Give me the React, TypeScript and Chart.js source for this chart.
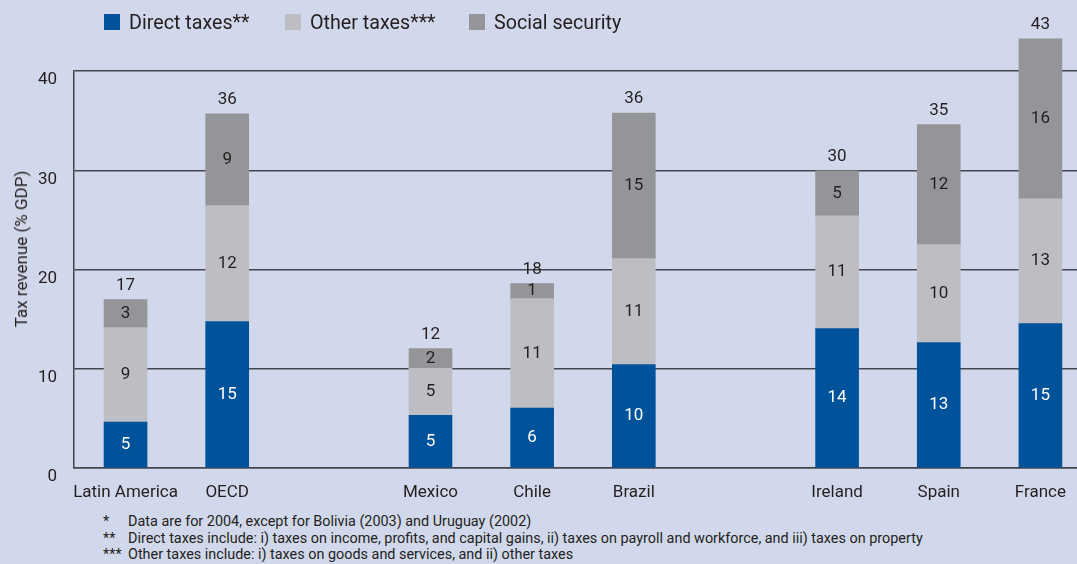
import React, { useEffect, useRef } from "react";
import { Chart, registerables } from "chart.js";

Chart.register(...registerables);

const categories = ["Latin America", "OECD", "", "Mexico", "Chile", "Brazil", "", "Ireland", "Spain", "France"];
const directTaxes = [4.63, 14.76, null, 5.3, 6.04, 10.43, null, 14.05, 12.64, 14.56];
const otherTaxes = [9.52, 11.67, null, 4.73, 11.03, 10.67, null, 11.35, 9.86, 12.57];
const socialSecurity = [2.82, 9.26, null, 2.01, 1.51, 14.65, null, 4.53, 12.1, 16.1];
const directLabels = [5, 15, null, 5, 6, 10, null, 14, 13, 15];
const otherLabels = [9, 12, null, 5, 11, 11, null, 11, 10, 13];
const socialLabels = [3, 9, null, 2, 1, 15, null, 5, 12, 16];
const totalLabels = [17, 36, null, 12, 18, 36, null, 30, 35, 43];
const yTicks = [0, 10, 20, 30, 40];

const FONT = "Roboto, 'Noto Sans', sans-serif";
const TEXT = "#231f20";
const BG = "#d2d8eb";
const BLUE = "#00529b";
const LIGHT = "#bdbec3";
const DARK = "#949599";
const GRID = "#45454f";

const segmentLabels = [directLabels, otherLabels, socialLabels];

const labelPlugin = {
  id: "valueLabels",
  afterDatasetsDraw(chart: any) {
    const ctx = chart.ctx;
    ctx.save();
    ctx.font = `17px ${FONT}`;
    ctx.textAlign = "center";
    ctx.textBaseline = "middle";
    segmentLabels.forEach((labels, di) => {
      const meta = chart.getDatasetMeta(di);
      meta.data.forEach((bar: any, i: number) => {
        const v = labels[i];
        if (v == null) return;
        ctx.fillStyle = di === 0 ? "#ffffff" : TEXT;
        ctx.fillText(String(v), bar.x, (bar.y + bar.base) / 2);
      });
    });
    const topMeta = chart.getDatasetMeta(2);
    topMeta.data.forEach((bar: any, i: number) => {
      const t = totalLabels[i];
      if (t == null) return;
      ctx.fillStyle = TEXT;
      ctx.fillText(String(t), bar.x, bar.y - 14);
    });
    ctx.restore();
  },
};

const toPoints = (arr: (number | null)[]) => arr.map((v, i) => ({ x: i, y: v }));

export default function App() {
  const ref = useRef<HTMLCanvasElement>(null);
  useEffect(() => {
    const chart = new Chart(ref.current!, {
      type: "bar",
      data: {
        datasets: [
          { label: "Direct taxes**", data: toPoints(directTaxes) as any, backgroundColor: BLUE, barThickness: 43, clip: false as any },
          { label: "Other taxes***", data: toPoints(otherTaxes) as any, backgroundColor: LIGHT, barThickness: 43, clip: false as any },
          { label: "Social security", data: toPoints(socialSecurity) as any, backgroundColor: DARK, barThickness: 43, clip: false as any },
        ],
      },
      options: {
        animation: false,
        responsive: false,
        maintainAspectRatio: false,
        layout: { padding: { top: 71, right: 0, left: 0, bottom: 0 } },
        plugins: { legend: { display: false }, tooltip: { enabled: false } },
        scales: {
          x: {
            type: "linear",
            stacked: true,
            offset: false,
            min: -0.507,
            max: 9.36,
            afterBuildTicks: (s: any) => {
              s.ticks = categories.map((_, i) => ({ value: i }));
            },
            afterFit: (s: any) => {
              s.height = 42;
              s.paddingLeft = 0;
              s.paddingRight = 0;
            },
            ticks: {
              autoSkip: false,
              maxRotation: 0,
              padding: 15,
              color: TEXT,
              font: { family: FONT, size: 17 },
              callback: (v: any) => categories[v] ?? "",
            },
            grid: { display: false, drawTicks: false, offset: false },
            border: { display: true, color: GRID, width: 1.5 },
          },
          y: {
            stacked: true,
            min: 0,
            max: 40,
            afterBuildTicks: (s: any) => {
              s.ticks = yTicks.map((v) => ({ value: v }));
            },
            afterFit: (s: any) => {
              s.width = 74;
            },
            ticks: {
              padding: 17,
              labelOffset: 9,
              color: TEXT,
              font: { family: FONT, size: 17 },
            },
            grid: { color: GRID, lineWidth: 1.5, drawTicks: false },
            border: { display: true, color: GRID, width: 1.5 },
          },
        },
      },
      plugins: [labelPlugin],
    });
    return () => chart.destroy();
  }, []);

  const legendItems = [
    { label: "Direct taxes**", color: BLUE, left: 104 },
    { label: "Other taxes***", color: LIGHT, left: 285 },
    { label: "Social security", color: DARK, left: 469 },
  ];

  return (
    <div style={{ position: "fixed", left: 0, top: 0, width: 1077, height: 564, background: BG, overflow: "hidden", fontFamily: FONT, color: TEXT }}>
      <canvas ref={ref} width={1077} height={510} style={{ position: "absolute", left: 0, top: 0, width: 1077, height: 510 }} />
      {legendItems.map((it) => (
        <div key={it.label} style={{ position: "absolute", left: it.left, top: 10, height: 24, display: "flex", alignItems: "center", fontSize: 19.7, whiteSpace: "nowrap" }}>
          <span style={{ display: "inline-block", width: 16, height: 16, background: it.color, marginRight: 9 }} />
          <span>{it.label}</span>
        </div>
      ))}
      <div style={{ position: "absolute", left: 21, top: 249, transform: "translate(-50%, -50%) rotate(-90deg)", fontSize: 17, whiteSpace: "nowrap" }}>
        Tax revenue (% GDP)
      </div>
      <div style={{ position: "absolute", left: 103, top: 514, fontSize: 14.4, lineHeight: "16.5px", whiteSpace: "nowrap" }}>
        <div><span style={{ display: "inline-block", width: 25 }}>*</span>Data are for 2004, except for Bolivia (2003) and Uruguay (2002)</div>
        <div><span style={{ display: "inline-block", width: 25 }}>**</span>Direct taxes include: i) taxes on income, profits, and capital gains, ii) taxes on payroll and workforce, and iii) taxes on property</div>
        <div><span style={{ display: "inline-block", width: 25 }}>***</span>Other taxes include: i) taxes on goods and services, and ii) other taxes</div>
      </div>
    </div>
  );
}
